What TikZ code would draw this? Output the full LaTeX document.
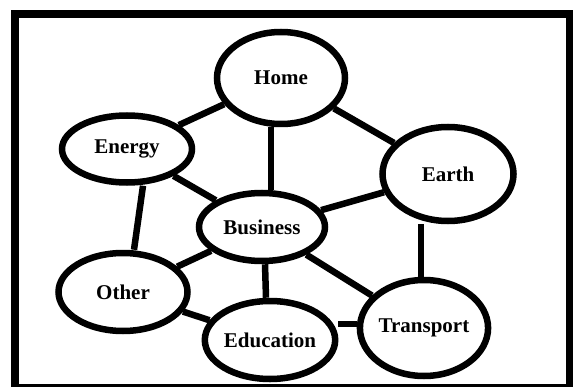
\documentclass[tikz,border=0pt]{standalone}
\usepackage{fontspec}
\setmainfont{Liberation Serif}
\usetikzlibrary{shapes.geometric}

\begin{document}
\begin{tikzpicture}[x=1pt,y=-1pt,
  bubble/.style={ellipse,draw=black,line width=6.5pt,inner sep=0pt,
    font=\fontsize{21}{24}\selectfont\bfseries},
  link/.style={line width=6.5pt}]
\useasboundingbox (0,0) rectangle (577,387);
\draw[line width=7.5pt] (15,14) rectangle (569.5,388);

 \node (Home) at (281,78) [bubble,minimum width=128,minimum height=92]{Home};
 \node (Energy) at (127,149) [bubble,minimum width=130,minimum height=67]{Energy};
 \node (Earth) at (448,174) [bubble,minimum width=131,minimum height=94]{Earth};
 \node (Business) at (262,227) [bubble,minimum width=126,minimum height=68]{Business};
 \node (Other) at (123,292) [bubble,minimum width=129,minimum height=78]{Other};
 \node (Education) at (270,340) [bubble,minimum width=130,minimum height=78]{Education};
 \node (Transport) at (424,328) [bubble,minimum width=127,minimum height=96]{Transport};

\draw[link] (Home)--(Energy);
\draw[link] ([xshift=-10pt]Home.south)--([xshift=9pt]Business.north);
\draw[link] (Home)--(Earth);
\draw[link] (Energy)--(Business);
\draw[link] ([xshift=16pt]Energy.south)--([xshift=11pt]Other.north);
\draw[link] (Business)--(Earth);
\draw[link] (Business)--(Other);
\draw[link] ([xshift=3pt]Business.south)--([xshift=-4pt]Education.north);
\draw[link] (Business)--(Transport);
\draw[link] ([xshift=-3pt]Transport.north)--([xshift=-27pt]Earth.south);
\draw[link] (Other)--(Education);
\draw[link] ([yshift=16pt]Education.east)--([yshift=4pt]Transport.west);

\end{tikzpicture}
\end{document}
